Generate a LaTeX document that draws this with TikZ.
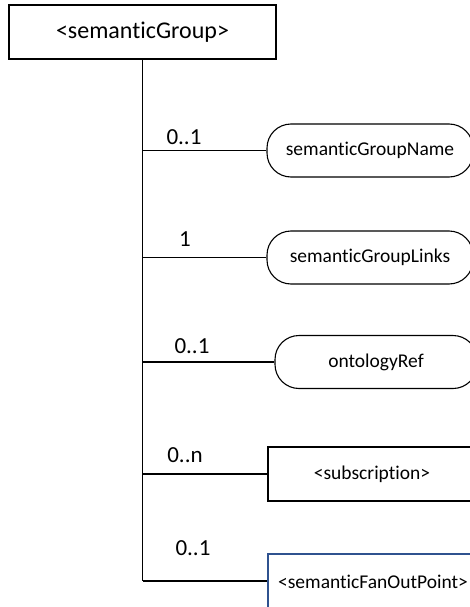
\documentclass[tikz,border=0pt]{standalone}
\usepackage{fontspec}
\setmainfont{Carlito}[Ligatures={NoCommon}]
\definecolor{fanblue}{HTML}{2F528F}
\begin{document}
\begin{tikzpicture}[x=1pt, y=-1pt,
    box/.style={rectangle, draw, line width=1.1pt, fill=white, minimum height=54pt, font=\fontsize{19.5}{22}\selectfont},
    pill/.style={rectangle, draw, line width=1.1pt, fill=white, rounded corners=24pt, minimum width=206pt, minimum height=53pt, font=\fontsize{19.5}{22}\selectfont},
    mult/.style={font=\fontsize{23}{26}\selectfont},
    line/.style={draw, line width=1.3pt}
]
    \useasboundingbox (0,0) rectangle (470,607);
    \node [box, minimum width=267pt, font=\fontsize{24}{28}\selectfont] (group) at (142.5,32) {<semanticGroup>};
    \node [pill] (name) at (370,150.5) {semanticGroupName};
    \node [pill] (links) at (370,257.5) {semanticGroupLinks};
    \node [pill, minimum width=202pt] (onto) at (376,362) {ontologyRef};
    \node [box, minimum width=208pt] (subs) at (372,474) {<subscription>};
    \node [box, draw=fanblue, minimum width=210pt, minimum height=56pt] (fan) at (373,582) {<semanticFanOutPoint>};

    \coordinate (j1) at (142.5,150.5);
    \coordinate (j2) at (142.5,257.5);
    \coordinate (j3) at (142.5,362);
    \coordinate (j4) at (142.5,474);
    \coordinate (j5) at (142.5,581);

    \node [mult] (m1) at (184,137) {0..1};
    \node [mult] (m2) at (185,239) {1};
    \node [mult] (m3) at (192,346) {0..1};
    \node [mult] (m4) at (185,455) {0..n};
    \node [mult] (m5) at (193,548) {0..1};

    \draw [line] (group.south) -- (j5);
    \draw [line] (j1) -- (name);
    \draw [line] (j2) -- (links);
    \draw [line] (j3) -- (onto);
    \draw [line] (j4) -- (subs);
    \draw [line] (j5) -- (fan.west |- j5);
\end{tikzpicture}
\end{document}
